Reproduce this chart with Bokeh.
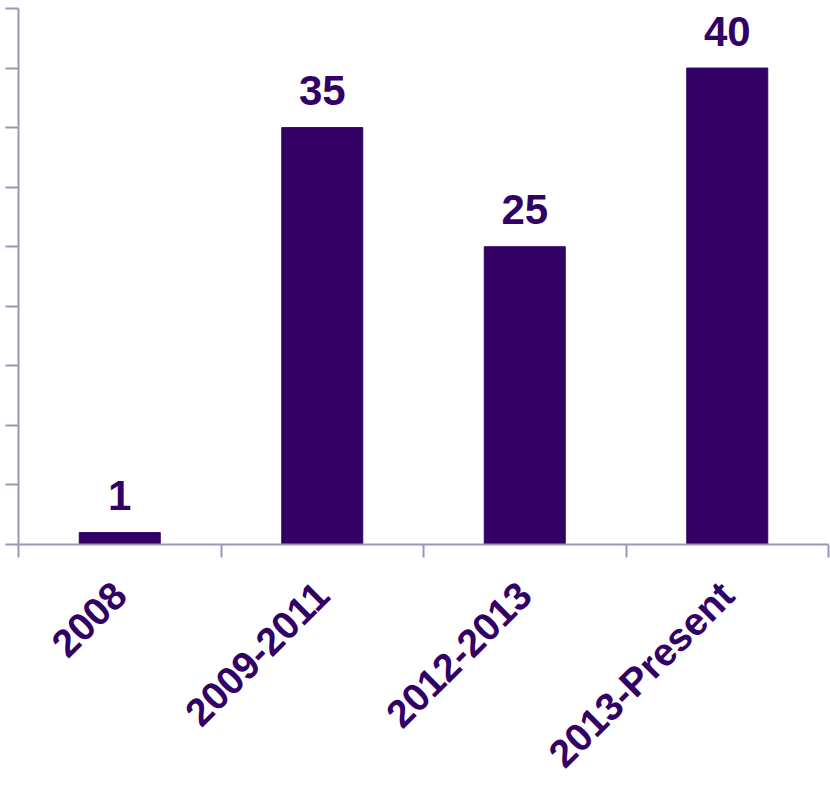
from math import pi
from bokeh.plotting import figure
from bokeh.models import ColumnDataSource, FixedTicker, Range1d, CustomJSTickFormatter
from bokeh.embed import file_html
from bokeh.resources import INLINE
from bokeh.core.properties import value

categories = ["2008", "2009-2011", "2012-2013", "2013-Present"]
counts = [1, 35, 25, 40]
y_ticks = [0, 5, 10, 15, 20, 25, 30, 35, 40, 45]

BAR = "#330066"
AXIS = "#9a97b6"
FONT = "Liberation Sans"

xs = [i + 0.5 for i in range(len(categories))]
bounds = list(range(len(categories) + 1))
src = ColumnDataSource(dict(x=xs, top=counts, label=[str(c) for c in counts]))

p = figure(width=830, height=793,
           x_range=Range1d(0, len(categories)), y_range=Range1d(0, y_ticks[-1]),
           output_backend="svg", toolbar_location=None,
           min_border_left=18, min_border_right=2, min_border_top=8, min_border_bottom=249)
p.outline_line_color = None
p.grid.visible = False
p.background_fill_color = "white"
p.border_fill_color = "white"

p.vbar(x="x", top="top", width=0.4, source=src, fill_color=BAR, line_color=BAR)
p.text(x="x", y="top", text="label", source=src, text_align="center",
       text_baseline="alphabetic", y_offset=-37, text_font=value(FONT),
       text_font_style="bold", text_font_size="42px", text_color=BAR)

xa = p.xaxis[0]
xa.ticker = FixedTicker(ticks=xs, minor_ticks=bounds)
xa.major_label_overrides = {x: c for x, c in zip(xs, categories)}
xa.major_tick_out = 0
xa.major_tick_in = 0
xa.minor_tick_out = 13
xa.minor_tick_in = 0
xa.minor_tick_line_color = AXIS
xa.minor_tick_line_width = 2
xa.axis_line_color = AXIS
xa.axis_line_width = 2
xa.major_label_orientation = pi / 4
xa.major_label_standoff = 31
xa.major_label_text_font = FONT
xa.major_label_text_font_style = "bold"
xa.major_label_text_font_size = "39px"
xa.major_label_text_color = BAR

ya = p.yaxis[0]
ya.ticker = FixedTicker(ticks=y_ticks)
ya.formatter = CustomJSTickFormatter(code="return ''")
ya.major_tick_out = 13
ya.major_tick_in = 0
ya.major_tick_line_color = AXIS
ya.major_tick_line_width = 2
ya.minor_tick_line_color = None
ya.axis_line_color = AXIS
ya.axis_line_width = 2
ya.major_label_standoff = 0

open("out.html", "w").write(file_html(p, INLINE))
